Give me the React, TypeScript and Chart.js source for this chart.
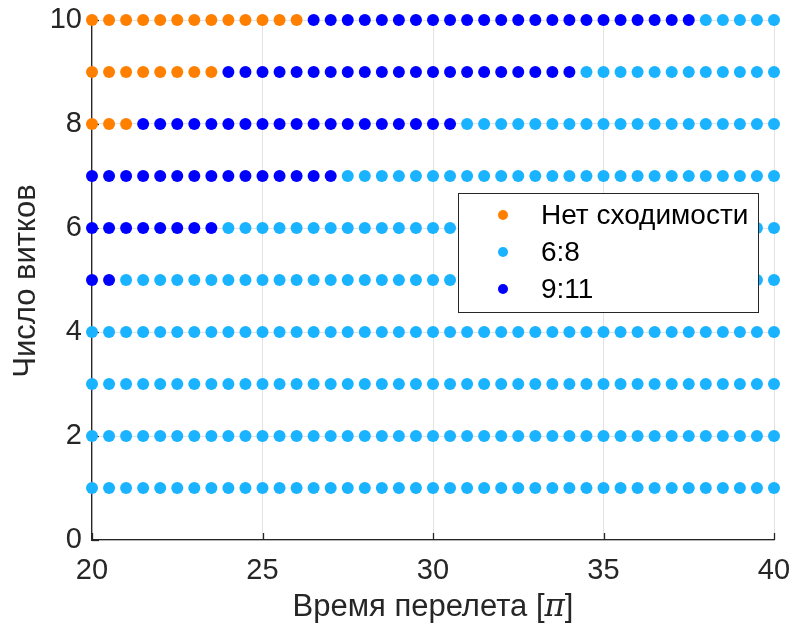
import React, { useEffect, useRef } from "react";
import { Chart, registerables } from "chart.js";

Chart.register(...registerables);

// Flight time grid values [π]
const flightTimes = [
  20, 20.5, 21, 21.5, 22, 22.5, 23, 23.5, 24, 24.5, 25, 25.5, 26, 26.5, 27, 27.5, 28, 28.5, 29, 29.5,
  30, 30.5, 31, 31.5, 32, 32.5, 33, 33.5, 34, 34.5, 35, 35.5, 36, 36.5, 37, 37.5, 38, 38.5, 39, 39.5, 40,
];
// Number of turns (rows)
const turns = [1, 2, 3, 4, 5, 6, 7, 8, 9, 10];
// Last flight time without convergence for each turn count (null = none)
const noConvergenceUntil: (number | null)[] = [null, null, null, null, null, null, null, 21, 23.5, 26];
// Last flight time belonging to the "9:11" group for each turn count (null = none)
const group911Until: (number | null)[] = [null, null, null, null, 20.5, 23.5, 27, 30.5, 34, 37.5];

const seriesLabels = ["Нет сходимости", "6:8", "9:11"];
const seriesColors = ["#FF8000", "#1AB3FF", "#0000FF"];

const xTicks = [20, 25, 30, 35, 40];
const yTicks = [0, 2, 4, 6, 8, 10];

const xTitleParts = ["Время перелета [", "π", "]"];
const yTitle = "Число витков";

const FONT = "'Liberation Sans', Arial, Helvetica, sans-serif";
const TEXT = "#262626";

function buildSeries() {
  const out: { x: number; y: number }[][] = [[], [], []];
  turns.forEach((n, i) => {
    flightTimes.forEach((t) => {
      const nc = noConvergenceUntil[i];
      const g = group911Until[i];
      if (nc !== null && t <= nc) out[0].push({ x: t, y: n });
      else if (g !== null && t <= g) out[2].push({ x: t, y: n });
      else out[1].push({ x: t, y: n });
    });
  });
  return out;
}

const overlayPlugin = {
  id: "overlay",
  beforeDatasetsDraw(chart: any) {
    const { ctx, chartArea, scales } = chart;
    ctx.save();
    ctx.strokeStyle = TEXT;
    ctx.lineWidth = 1.3;
    const len = 7;
    xTicks.forEach((v) => {
      const px = Math.round(scales.x.getPixelForValue(v)) + 0.5;
      ctx.beginPath();
      ctx.moveTo(px, chartArea.bottom);
      ctx.lineTo(px, chartArea.bottom - len);
      ctx.stroke();
    });
    yTicks.forEach((v) => {
      const py = Math.round(scales.y.getPixelForValue(v)) + 0.5;
      ctx.beginPath();
      ctx.moveTo(chartArea.left, py);
      ctx.lineTo(chartArea.left + len, py);
      ctx.stroke();
    });
    ctx.restore();
  },
  afterDraw(chart: any) {
    const { ctx, chartArea } = chart;
    ctx.save();
    ctx.fillStyle = TEXT;
    // x title with italic pi
    const fonts = [`31px ${FONT}`, `italic 31px 'DejaVu Serif', 'Liberation Serif', serif`, `31px ${FONT}`];
    const widths = xTitleParts.map((p, i) => {
      ctx.font = fonts[i];
      return ctx.measureText(p).width;
    });
    const total = widths.reduce((a, b) => a + b, 0);
    let x0 = (chartArea.left + chartArea.right) / 2 - total / 2;
    ctx.textAlign = "left";
    ctx.textBaseline = "alphabetic";
    xTitleParts.forEach((p, i) => {
      ctx.font = fonts[i];
      ctx.fillText(p, x0, 616);
      x0 += widths[i];
    });
    // y title
    ctx.font = `31px ${FONT}`;
    ctx.save();
    ctx.translate(35, 281);
    ctx.rotate(-Math.PI / 2);
    ctx.textAlign = "center";
    ctx.fillText(yTitle, 0, 0);
    ctx.restore();

    // legend
    const bx = 458, by = 193, bw = 300, bh = 119;
    ctx.fillStyle = "#ffffff";
    ctx.fillRect(bx, by, bw, bh);
    ctx.strokeStyle = TEXT;
    ctx.lineWidth = 1;
    ctx.strokeRect(bx + 0.5, by + 0.5, bw, bh);
    const rows = [215, 252, 289];
    ctx.font = `28px ${FONT}`;
    seriesLabels.forEach((lab, i) => {
      ctx.fillStyle = seriesColors[i];
      ctx.beginPath();
      ctx.arc(503, rows[i], 5, 0, Math.PI * 2);
      ctx.fill();
      ctx.fillStyle = "#000000";
      ctx.textAlign = "left";
      ctx.textBaseline = "middle";
      ctx.fillText(lab, 541, rows[i] + 1);
    });
    ctx.restore();
  },
};

export default function App() {
  const ref = useRef<HTMLCanvasElement>(null);
  useEffect(() => {
    document.body.style.margin = "0";
    const series = buildSeries();
    const chart = new Chart(ref.current as HTMLCanvasElement, {
      type: "scatter",
      data: {
        datasets: seriesLabels.map((lab, i) => ({
          label: lab,
          data: series[i],
          backgroundColor: seriesColors[i],
          borderColor: seriesColors[i],
          borderWidth: 0,
          pointRadius: 6,
          pointHoverRadius: 6,
          clip: false as any,
        })),
      },
      options: {
        responsive: false,
        animation: false,
        layout: { padding: { top: 20, right: 22, left: 0, bottom: 0 } },
        plugins: { legend: { display: false }, tooltip: { enabled: false } },
        scales: {
          x: {
            type: "linear",
            min: 20,
            max: 40,
            afterBuildTicks: (s: any) => {
              s.ticks = xTicks.map((v) => ({ value: v }));
            },
            afterFit: (s: any) => {
              s.height = 91;
              s.paddingLeft = 0;
              s.paddingRight = 0;
            },
            grid: { color: "#e3e3e3", lineWidth: 1, drawTicks: false },
            border: { display: true, color: TEXT, width: 1.3 },
            ticks: { color: TEXT, font: { family: FONT, size: 29 }, padding: 14, maxRotation: 0 },
          },
          y: {
            type: "linear",
            min: 0,
            max: 10,
            afterBuildTicks: (s: any) => {
              s.ticks = yTicks.map((v) => ({ value: v }));
            },
            afterFit: (s: any) => {
              s.width = 92;
              s.paddingTop = 0;
              s.paddingBottom = 0;
            },
            grid: { color: "#e3e3e3", lineWidth: 1, drawTicks: false },
            border: { display: true, color: TEXT, width: 1.3 },
            ticks: { color: TEXT, font: { family: FONT, size: 29 }, padding: 10 },
          },
        },
      },
      plugins: [overlayPlugin],
    });
    return () => chart.destroy();
  }, []);
  return <canvas ref={ref} width={796} height={631} style={{ display: "block" }} />;
}
